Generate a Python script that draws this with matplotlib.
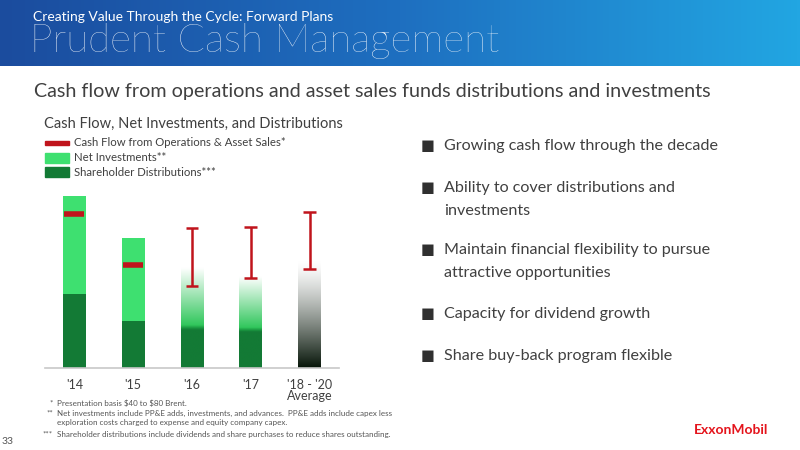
import numpy as np
import matplotlib
matplotlib.use('Agg')
import matplotlib.pyplot as plt
from matplotlib.colors import LinearSegmentedColormap, to_rgb

# Data ($B)
years = ["'14", "'15", "'16", "'17", "'18 - '20\nAverage"]
distributions = [23.5, 15.0, 12.1, 11.5]          # shareholder distributions ('14-'17)
net_investments = [31.4, 26.4]                     # actuals '14, '15
plan_top = [31.9, 29.1, 33.9]                      # faded totals '16, '17, '18-'20
cash_flow_actual = [49.3, 32.9]                    # '14, '15
cash_flow_low = [26.2, 28.7, 31.6]                 # '16, '17, '18-'20
cash_flow_high = [44.7, 45.1, 49.7]

bullets = [["Growing cash flow through the decade"],
           ["Ability to cover distributions and", "investments"],
           ["Maintain financial flexibility to pursue", "attractive opportunities"],
           ["Capacity for dividend growth"],
           ["Share buy-back program flexible"]]
bullet_y = [146, 188, 250, 314, 356]

foot_marks = ["*", "**", "", "***"]
foot_lines = ["Presentation basis \\$40 to \\$80 Brent.",
              "Net investments include PP&E adds, investments, and advances.  PP&E adds include capex less",
              "exploration costs charged to expense and equity company capex.",
              "Shareholder distributions include dividends and share purchases to reduce shares outstanding."]
foot_y = [403, 413, 423, 434]

dark_green = '#137a35'
light_green = '#3ee070'
red = '#c0141c'
grey_txt = '#404040'

plt.rcParams['font.family'] = ['Lato', 'DejaVu Sans']

W, H = 800, 450
fig = plt.figure(figsize=(8, 4.5), dpi=100)
fig.patch.set_facecolor('white')

# header banner
hax = fig.add_axes([0, 1 - 66 / H, 1, 66 / H])
grad = np.linspace(0, 1, 256)[None, :]
bcmap = LinearSegmentedColormap.from_list('b', ['#1b4c9e', '#1e6fc0', '#22a6e2'])
hax.imshow(grad, aspect='auto', cmap=bcmap, extent=[0, 1, 0, 1])
hax.axis('off')
fig.text(33 / W, 1 - 17 / H, 'Creating Value Through the Cycle: Forward Plans', color='white',
         fontsize=10, va='center', ha='left')
fig.text(30 / W, 1 - 41 / H, 'Prudent Cash Management', color='white', fontsize=29,
         fontweight='light', va='center', ha='left')

fig.text(34 / W, 1 - 91 / H, 'Cash flow from operations and asset sales funds distributions and investments',
         color=grey_txt, fontsize=14.2, va='center', ha='left')
fig.text(44 / W, 1 - 124 / H, 'Cash Flow, Net Investments, and Distributions',
         color=grey_txt, fontsize=10.5, va='center', ha='left')

# legend
leg_items = [('Cash Flow from Operations & Asset Sales*', red, 4),
             ('Net Investments**', light_green, 10),
             ('Shareholder Distributions***', dark_green, 10)]
for i, (lab, col, h) in enumerate(leg_items):
    yc = 143 + i * 14.5
    fig.patches.append(plt.Rectangle((45 / W, 1 - (yc + h / 2) / H), 24 / W, h / H,
                                     color=col, transform=fig.transFigure, figure=fig))
    fig.text(74 / W, 1 - yc / H, lab, color=grey_txt, fontsize=8.2, va='center', ha='left')

# chart axes
ymax = 57
ax = fig.add_axes([45 / W, 1 - 367.7 / H, 294 / W, (ymax / 0.32) / H])
ax.set_xlim(-0.5, 4.5)
ax.set_ylim(0, ymax)
bw = 0.39
x = np.arange(len(years))

ax.bar(x[:2], distributions[:2], width=bw, color=dark_green, zorder=2)
ax.bar(x[:2], net_investments, width=bw, bottom=distributions[:2], color=light_green, zorder=2)
ax.hlines(cash_flow_actual, x[:2] - 0.17, x[:2] + 0.17, color=red, lw=4, zorder=4)

# faded plan bars
yy = np.linspace(0, ymax, 400)
for i, top in enumerate(plan_top):
    xi = x[2 + i]
    rgba = np.ones((len(yy), 1, 4))
    if i < 2:
        d = distributions[2 + i]
        g0, g1 = np.array(to_rgb(dark_green)), np.array(to_rgb('#20c24f'))
        for k, v in enumerate(yy):
            if v <= d:
                rgba[k, 0, :3] = g0
            else:
                t = (v - d) / (top - d)
                c = g1 * (1 - t) + np.array([1, 1, 1]) * t
                if t < 0.08:
                    c = g0 * (1 - t / 0.08) + c * (t / 0.08)
                rgba[k, 0, :3] = c
    else:
        for k, v in enumerate(yy):
            t = min(v / top, 1)
            c0 = np.array([0.02, 0.08, 0.03])
            rgba[k, 0, :3] = c0 * (1 - t) ** 1.3 + np.array([1, 1, 1]) * (1 - (1 - t) ** 1.3)
    rgba[yy > top, 0, 3] = 0
    ax.imshow(rgba, extent=[xi - bw / 2, xi + bw / 2, 0, ymax], origin='lower',
              aspect='auto', zorder=2, interpolation='bilinear')

ax.vlines(x[2:], cash_flow_low, cash_flow_high, color=red, lw=1.8, zorder=4)
ax.hlines(cash_flow_low + cash_flow_high, np.tile(x[2:], 2) - 0.11, np.tile(x[2:], 2) + 0.11,
          color=red, lw=1.8, zorder=4)
ax.set_xlim(-0.5, 4.5)
ax.set_ylim(0, ymax)

for s in ['top', 'right', 'left']:
    ax.spines[s].set_visible(False)
ax.spines['bottom'].set_color('#c8c8c8')
ax.spines['bottom'].set_linewidth(1.2)
ax.set_yticks([])
ax.set_xticks(x)
ax.set_xticklabels(years, color=grey_txt, fontsize=9, linespacing=0.95)
ax.tick_params(axis='x', length=0, pad=8)

# bullets
for lines, yb in zip(bullets, bullet_y):
    fig.text(428 / W, 1 - yb / H, '■', color='#303030', fontsize=10.5, va='center', ha='center',
             family='DejaVu Sans')
    for j, line in enumerate(lines):
        fig.text(444 / W, 1 - (yb + j * 23) / H, line, color=grey_txt, fontsize=11.6,
                 va='center', ha='left')

# footnotes
for mk, line, yf in zip(foot_marks, foot_lines, foot_y):
    if mk:
        fig.text(53 / W, 1 - yf / H, mk, color='#555555', fontsize=5.8, va='center', ha='right')
    fig.text(57 / W, 1 - yf / H, line, color='#555555', fontsize=5.8, va='center', ha='left')
fig.text(2 / W, 1 - 442 / H, '33', color='#555555', fontsize=7.5, va='center', ha='left')
fig.text(731 / W, 1 - 430 / H, 'ExxonMobil', color='#e4141c', fontsize=10, fontweight='bold',
         va='center', ha='center')

fig.savefig('out.png', dpi=100)
